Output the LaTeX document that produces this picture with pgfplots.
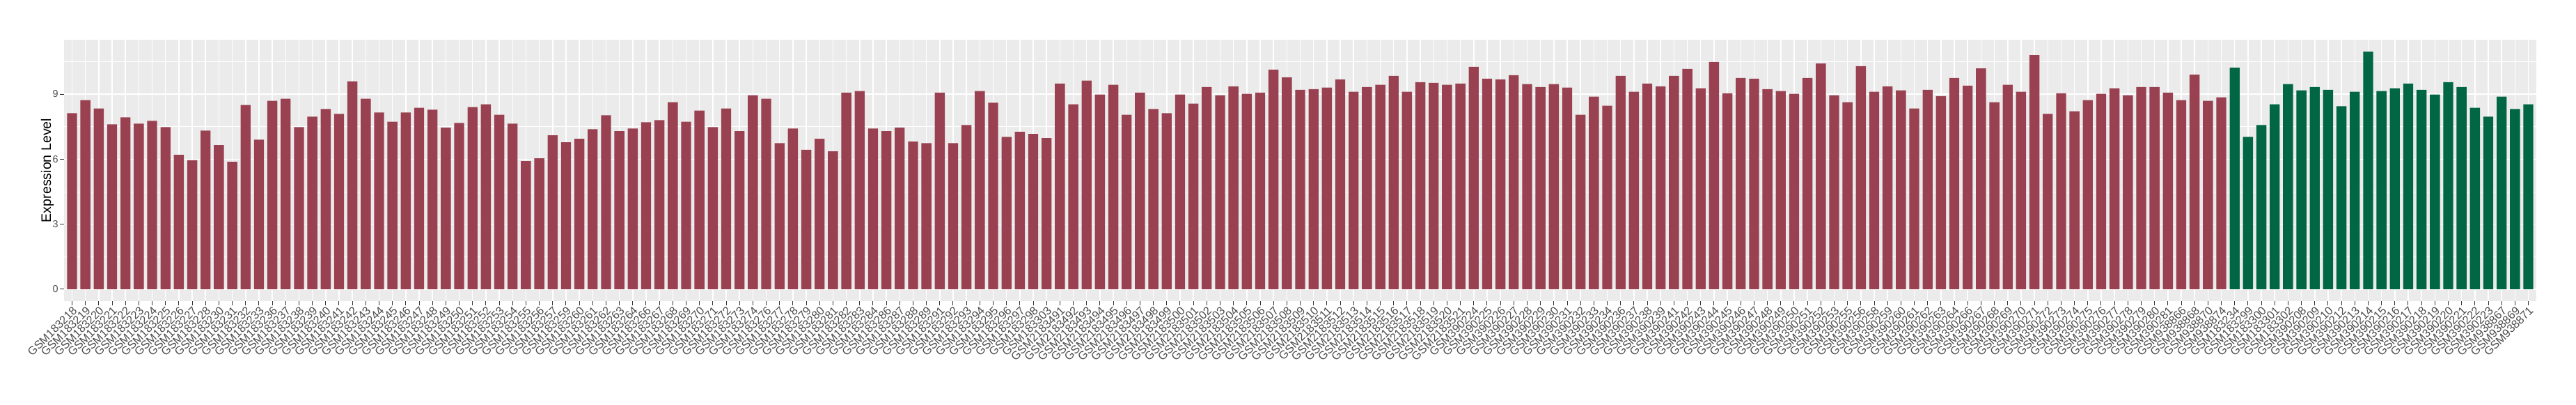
\documentclass[border=0pt]{standalone}
\usepackage{fontspec}
\setmainfont{Liberation Sans}
\usepackage{pgfplots}
\pgfplotsset{compat=1.18}
\definecolor{panelbg}{HTML}{EBEBEB}
\definecolor{redbar}{RGB}{154,65,81}
\definecolor{greenbar}{RGB}{0,102,68}
\definecolor{tickgray}{HTML}{4D4D4D}
\definecolor{tickcol}{HTML}{333333}
\begin{document}
\begin{tikzpicture}
\begin{axis}[
  scale only axis, width=1775.5pt, height=187.5pt,
  xmin=-0.6, xmax=184.6, ymin=-0.548, ymax=11.508,
  axis background/.style={fill=panelbg},
  axis line style={draw=none},
  xtick={0,...,184},
  xticklabels={GSM183218,GSM183219,GSM183220,GSM183221,GSM183222,GSM183223,GSM183224,GSM183225,GSM183226,GSM183227,GSM183228,
  GSM183230,GSM183231,GSM183232,GSM183233,
  GSM183236,GSM183237,GSM183238,GSM183239,GSM183240,GSM183241,GSM183242,GSM183243,GSM183244,GSM183245,GSM183246,GSM183247,GSM183248,GSM183249,GSM183250,GSM183251,GSM183252,GSM183253,GSM183254,GSM183255,GSM183256,GSM183257,
  GSM183259,GSM183260,GSM183261,GSM183262,GSM183263,GSM183264,
  GSM183266,GSM183267,GSM183268,GSM183269,GSM183270,GSM183271,GSM183272,GSM183273,GSM183274,
  GSM183276,GSM183277,GSM183278,GSM183279,GSM183280,GSM183281,GSM183282,GSM183283,GSM183284,
  GSM183286,GSM183287,GSM183288,GSM183289,
  GSM183291,GSM183292,GSM183293,GSM183294,GSM183295,GSM183296,GSM183297,GSM183298,
  GSM183303,
  GSM2183491,GSM2183492,GSM2183493,GSM2183494,GSM2183495,GSM2183496,GSM2183497,GSM2183498,GSM2183499,GSM2183500,GSM2183501,GSM2183502,GSM2183503,GSM2183504,GSM2183505,GSM2183506,GSM2183507,GSM2183508,GSM2183509,GSM2183510,GSM2183511,GSM2183512,GSM2183513,GSM2183514,GSM2183515,GSM2183516,GSM2183517,GSM2183518,GSM2183519,GSM2183520,GSM2183521,
  GSM390224,GSM390225,GSM390226,GSM390227,GSM390228,GSM390229,GSM390230,GSM390231,GSM390232,GSM390233,GSM390234,
  GSM390236,GSM390237,GSM390238,GSM390239,
  GSM390241,GSM390242,GSM390243,GSM390244,GSM390245,GSM390246,GSM390247,GSM390248,GSM390249,GSM390250,GSM390251,GSM390252,GSM390253,
  GSM390255,GSM390256,
  GSM390258,GSM390259,GSM390260,GSM390261,GSM390262,GSM390263,GSM390264,
  GSM390266,GSM390267,GSM390268,GSM390269,GSM390270,GSM390271,GSM390272,GSM390273,GSM390274,GSM390275,GSM390276,GSM390277,GSM390278,GSM390279,GSM390280,GSM390281,
  GSM938866,GSM938868,GSM938870,GSM938874,
  GSM183234,GSM183299,GSM183300,GSM183301,GSM183302,
  GSM390208,GSM390209,GSM390210,GSM390212,GSM390213,GSM390214,GSM390215,GSM390216,GSM390217,GSM390218,GSM390219,GSM390220,GSM390221,GSM390222,GSM390223,
  GSM938867,GSM938869,GSM938871},
  x tick label style={rotate=45, anchor=north east, inner sep=0pt, font=\fontsize{8.2}{8.2}\selectfont, text=tickgray},
  ytick={0,3,6,9},
  minor ytick={1.5,4.5,7.5,10.5},
  y tick label style={font=\fontsize{7.2}{7.2}\selectfont, text=tickgray, inner sep=1pt},
  /pgf/number format/assume math mode=true,
  grid=both,
  major grid style={white, line width=0.75pt},
  minor grid style={white, line width=0.4pt},
  tick align=outside,
  major tick length=3pt, minor tick length=0pt,
  tick style={tickcol, line width=0.5pt},
  xtick pos=left, ytick pos=left,
  ylabel={Expression Level},
  every axis y label/.style={at={(axis description cs:0,0.5)}, xshift=-12pt, rotate=90, anchor=center, font=\fontsize{9.8}{9.8}\selectfont},
]
\addplot[ybar, bar width=0.75, bar shift=0pt, draw=none, fill=redbar] coordinates {
(0,8.12) (1,8.72) (2,8.34) (3,7.61) (4,7.93) (5,7.64) (6,7.77) (7,7.48) (8,6.20) (9,5.95)
(10,7.32) (11,6.65) (12,5.88) (13,8.50) (14,6.90) (15,8.69) (16,8.79) (17,7.48) (18,7.96) (19,8.31)
(20,8.09) (21,9.59) (22,8.79) (23,8.15) (24,7.73) (25,8.15) (26,8.37) (27,8.28) (28,7.45) (29,7.67)
(30,8.40) (31,8.53) (32,8.05) (33,7.64) (34,5.91) (35,6.04) (36,7.10) (37,6.78) (38,6.94) (39,7.38)
(40,8.02) (41,7.29) (42,7.41) (43,7.70) (44,7.80) (45,8.63) (46,7.73) (47,8.24) (48,7.48) (49,8.34)
(50,7.29) (51,8.95) (52,8.79) (53,6.74) (54,7.41) (55,6.43) (56,6.94) (57,6.36) (58,9.07) (59,9.14)
(60,7.41) (61,7.29) (62,7.45) (63,6.81) (64,6.74) (65,9.07) (66,6.74) (67,7.57) (68,9.14) (69,8.60)
(70,7.03) (71,7.26) (72,7.16) (73,6.97) (74,9.49) (75,8.53) (76,9.62) (77,8.98) (78,9.43) (79,8.05)
(80,9.07) (81,8.31) (82,8.12) (83,8.98) (84,8.56) (85,9.33) (86,8.95) (87,9.36) (88,9.01) (89,9.07)
(90,10.13) (91,9.78) (92,9.20) (93,9.23) (94,9.30) (95,9.68) (96,9.11) (97,9.33) (98,9.43) (99,9.84)
(100,9.11) (101,9.55) (102,9.52) (103,9.43) (104,9.49) (105,10.26) (106,9.71) (107,9.68) (108,9.87) (109,9.46)
(110,9.33) (111,9.46) (112,9.30) (113,8.05) (114,8.88) (115,8.47) (116,9.84) (117,9.11) (118,9.49) (119,9.36)
(120,9.84) (121,10.16) (122,9.27) (123,10.48) (124,9.04) (125,9.74) (126,9.71) (127,9.23) (128,9.14) (129,9.01)
(130,9.74) (131,10.41) (132,8.95) (133,8.63) (134,10.29) (135,9.11) (136,9.36) (137,9.17) (138,8.34) (139,9.20)
(140,8.91) (141,9.74) (142,9.39) (143,10.19) (144,8.63) (145,9.43) (146,9.11) (147,10.80) (148,8.09) (149,9.04)
(150,8.21) (151,8.72) (152,9.01) (153,9.27) (154,8.95) (155,9.33) (156,9.33) (157,9.07) (158,8.72) (159,9.90)
(160,8.69) (161,8.85)
};
\addplot[ybar, bar width=0.75, bar shift=0pt, draw=none, fill=greenbar] coordinates {
(162,10.22) (163,7.03) (164,7.57) (165,8.53) (166,9.46) (167,9.17) (168,9.33) (169,9.20) (170,8.44) (171,9.11)
(172,10.96) (173,9.14) (174,9.27) (175,9.49) (176,9.20) (177,8.98) (178,9.55) (179,9.33) (180,8.37) (181,7.96)
(182,8.88) (183,8.31) (184,8.53)
};
\end{axis}
\pgfresetboundingbox
\path[use as bounding box] ([shift={(-46pt,-74pt)}]current axis.south west) rectangle ([shift={(28.5pt,28.5pt)}]current axis.north east);
\end{tikzpicture}
\end{document}
